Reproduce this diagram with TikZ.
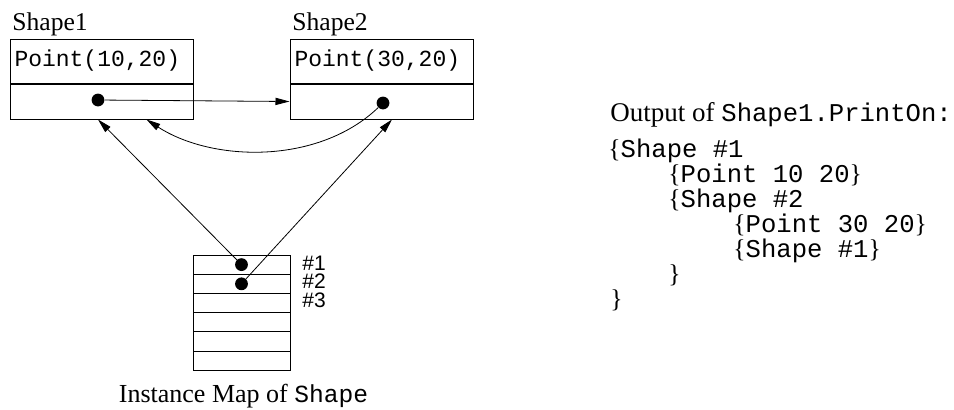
\documentclass[tikz,border=0pt]{standalone}
\usepackage{fontspec}
\setmainfont{Liberation Serif}
\setmonofont{Liberation Mono}
\newfontfamily\hashfont{Liberation Sans}
\usetikzlibrary{positioning,arrows.meta}

\newcommand{\obr}{\textrm{\{}}
\newcommand{\cbr}{\textrm{\}}}

\begin{document}
\begin{tikzpicture}[x=0.5pt,y=-0.5pt,node distance=0pt,
	cell/.style={draw,line width=0.5pt,minimum width=91.5pt,inner sep=0pt},
	topcell/.style={cell,minimum height=22pt,text width=87pt,align=left,font=\fontsize{11.5}{13}\ttfamily},
	botcell/.style={cell,minimum height=17.5pt},
	maprow/.style={draw,line width=0.5pt,minimum width=48.5pt,minimum height=9.6pt,inner sep=0pt},
	dot/.style={circle,fill,inner sep=0pt,minimum size=6.4pt},
	lbl/.style={inner sep=0pt,font=\fontsize{12.8}{14}\selectfont},
	hash/.style={inner sep=0pt,font=\fontsize{10.5}{12}\hashfont},
	codeline/.style={inner sep=0pt,anchor=base west,font=\fontsize{12.8}{15}\ttfamily},
	ptr/.style={-{Triangle[length=7pt,width=3.6pt]},line width=0.4pt}]
	\useasboundingbox (0,0) rectangle (954,409);

	% the two shape objects
	\node[topcell] (s1t) at (101.5,61) {Point(10,20)};
	\node[botcell] (s1b) [below=of s1t] {};
	\node[topcell] (s2t) at (381.5,61) {Point(30,20)};
	\node[botcell] (s2b) [below=of s2t] {};
	\node[lbl,anchor=base west] (n1) at (12,30) {Shape1};
	\node[lbl,anchor=base west] (n2) at (292,30) {Shape2};

	\node[dot] (d1) at (98,100) {};
	\node[dot] (d2) at (383,103) {};

	% instance map
	\foreach \i in {0,...,5}
		\node[maprow] (m\i) at (241.5,{264.6+19.2*\i}) {};
	\node[dot] (p1) at (m0) {};
	\node[dot] (p2) at (m1) {};
	\node[hash,anchor=west] (h1) at (302,263) {\#1};
	\node[hash,anchor=west] (h2) at (302,281.5) {\#2};
	\node[hash,anchor=west] (h3) at (302,300) {\#3};
	\node[lbl,anchor=base,font=\fontsize{13}{15}\selectfont] (maplab) at (243.5,402) {Instance Map of {\fontsize{12.3}{15}\ttfamily Shape}};

	% pointers
	\draw[ptr] (d1) -- (s2b.west);
	\draw[ptr] (d2) .. controls (318,165) and (212,162) .. ([xshift=22.5pt]s1b.south);
	\draw[ptr] (p1.center) -- (d1 |- s1b.south);
	\draw[ptr] (p2.center) -- ([xshift=4.5pt]d2 |- s2b.south);

	% printed output
	\node[lbl,anchor=base west,font=\fontsize{13.5}{15}\selectfont] (title) at (610,121) {Output of {\fontsize{12.8}{15}\ttfamily Shape1.PrintOn:}};
	\node[codeline] (c1) at (608,157) {\obr Shape \#1};
	\node[codeline] (c2) at (668,182) {\obr Point 10 20\cbr};
	\node[codeline] (c3) at (668,207) {\obr Shape \#2};
	\node[codeline] (c4) at (733,232) {\obr Point 30 20\cbr};
	\node[codeline] (c5) at (733,257) {\obr Shape \#1\cbr};
	\node[codeline] (c6) at (668,282) {\cbr};
	\node[codeline] (c7) at (610,307) {\cbr};
\end{tikzpicture}
\end{document}
